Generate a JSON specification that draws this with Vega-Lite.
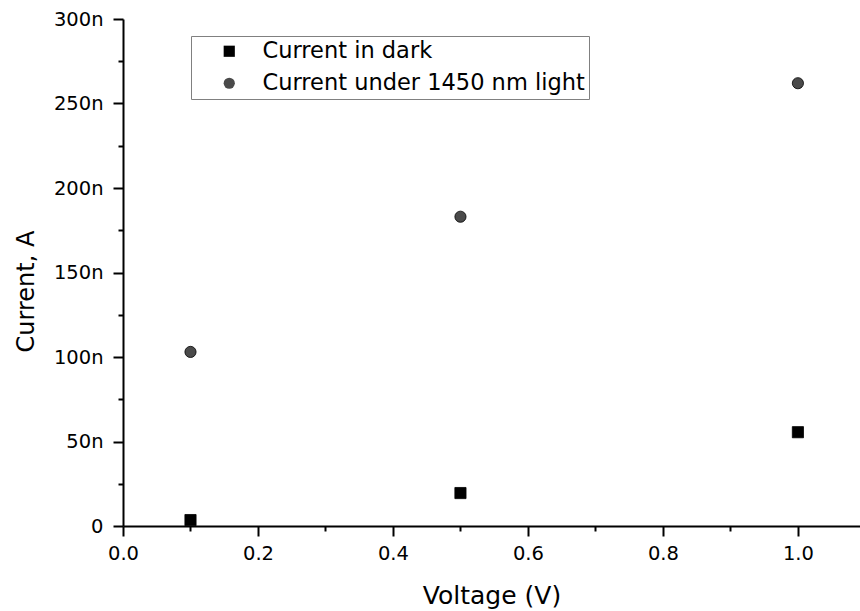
{
  "$schema": "https://vega.github.io/schema/vega-lite/v6.json",
  "width": 737,
  "height": 507,
  "autosize": {"type": "none"},
  "padding": {"left": 123, "top": 19, "right": 0, "bottom": 85},
  "background": "white",
  "config": {
    "view": {"stroke": null},
    "font": "DejaVu Sans",
    "axis": {
      "domainColor": "black",
      "domainWidth": 2,
      "tickColor": "black",
      "tickWidth": 2,
      "grid": false,
      "labelColor": "black",
      "titleColor": "black",
      "labelFont": "DejaVu Sans",
      "titleFont": "DejaVu Sans",
      "labelFontWeight": "normal",
      "titleFontWeight": "normal",
      "labelOverlap": false,
      "labelFlush": false
    }
  },
  "data": {
    "values": [
      {"voltage": 0.1, "current": 3.5e-9, "series": "Current in dark"},
      {"voltage": 0.5, "current": 19.5e-9, "series": "Current in dark"},
      {"voltage": 1.0, "current": 55.5e-9, "series": "Current in dark"},
      {"voltage": 0.1, "current": 103e-9, "series": "Current under 1450 nm light"},
      {"voltage": 0.5, "current": 183e-9, "series": "Current under 1450 nm light"},
      {"voltage": 1.0, "current": 262e-9, "series": "Current under 1450 nm light"}
    ]
  },
  "resolve": {"axis": {"x": "independent", "y": "independent"}},
  "layer": [
    {
      "mark": {"type": "point", "opacity": 0},
      "encoding": {
        "x": {
          "field": "voltage",
          "type": "quantitative",
          "scale": {"domain": [0, 1.092], "nice": false, "zero": false},
          "axis": {
            "orient": "bottom",
            "title": null,
            "labels": false,
            "domain": false,
            "tickSize": 5,
            "values": [0.1, 0.3, 0.5, 0.7, 0.9]
          }
        },
        "y": {
          "field": "current",
          "type": "quantitative",
          "scale": {"domain": [0, 3e-7], "nice": false, "zero": false},
          "axis": {
            "orient": "left",
            "title": null,
            "labels": false,
            "domain": false,
            "tickSize": 5,
            "values": [2.5e-8, 7.5e-8, 1.25e-7, 1.75e-7, 2.25e-7, 2.75e-7]
          }
        }
      }
    },
    {
      "mark": {"type": "point", "filled": true, "size": 125, "opacity": 1, "stroke": "black", "strokeWidth": 0.8},
      "encoding": {
        "x": {
          "field": "voltage",
          "type": "quantitative",
          "scale": {"domain": [0, 1.092], "nice": false, "zero": false},
          "axis": {
            "orient": "bottom",
            "title": "Voltage (V)",
            "titleFontSize": 25,
            "titleBaseline": "alphabetic",
            "titleY": 77,
            "labelFontSize": 19.5,
            "labelBaseline": "alphabetic",
            "labelPadding": 23,
            "tickSize": 10,
            "values": [0, 0.2, 0.4, 0.6, 0.8, 1.0],
            "format": ".1f"
          }
        },
        "y": {
          "field": "current",
          "type": "quantitative",
          "scale": {"domain": [0, 3e-7], "nice": false, "zero": false},
          "axis": {
            "orient": "left",
            "title": "Current, A",
            "titleFontSize": 24,
            "titleBaseline": "alphabetic",
            "titleAngle": -90,
            "titleX": -90,
            "titleY": 272,
            "titleAlign": "center",
            "labelFontSize": 19.5,
            "labelPadding": 10,
            "tickSize": 10,
            "values": [0, 5e-8, 1e-7, 1.5e-7, 2e-7, 2.5e-7, 3e-7],
            "labelExpr": "datum.value == 0 ? '0' : round(datum.value*1e9) + 'n'"
          }
        },
        "shape": {
          "field": "series",
          "type": "nominal",
          "scale": {"domain": ["Current in dark", "Current under 1450 nm light"], "range": ["square", "circle"]},
          "legend": {
            "title": null,
            "orient": "none",
            "legendX": 68,
            "legendY": 17,
            "strokeColor": "#808080",
            "fillColor": "white",
            "padding": 4,
            "rowPadding": 9,
            "symbolOffset": 23,
            "labelOffset": 22,
            "symbolSize": 125,
            "symbolOpacity": 1,
            "symbolStrokeWidth": 0.8,
            "symbolStrokeColor": "black",
            "labelFontSize": 22.5,
            "labelFont": "DejaVu Sans",
            "labelColor": "black",
            "labelLimit": 500
          }
        },
        "fill": {
          "field": "series",
          "type": "nominal",
          "scale": {"domain": ["Current in dark", "Current under 1450 nm light"], "range": ["#000000", "#4a4a4a"]},
          "legend": null
        }
      }
    }
  ]
}
